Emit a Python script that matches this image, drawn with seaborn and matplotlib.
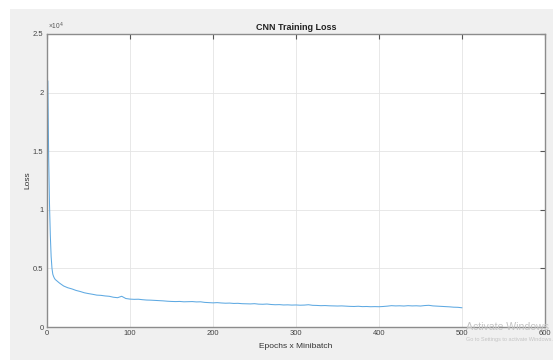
import numpy as np
import pandas as pd
import matplotlib
matplotlib.use("Agg")
import matplotlib.pyplot as plt
import seaborn as sns
from matplotlib.ticker import FuncFormatter
from matplotlib.patches import Rectangle

# ---- data (loss values, raw units) ----
epochs = [1, 2, 3, 4, 5, 6, 7, 8, 9, 10,
          15, 20, 25, 30, 35, 40, 45, 50, 55, 60,
          65, 70, 75, 80, 85, 90, 95, 100, 105, 110,
          115, 120, 125, 130, 135, 140, 145, 150, 155, 160,
          165, 170, 175, 180, 185, 190, 195, 200, 205, 210,
          215, 220, 225, 230, 235, 240, 245, 250, 255, 260,
          265, 270, 275, 280, 285, 290, 295, 300, 305, 310,
          315, 320, 325, 330, 335, 340, 345, 350, 355, 360,
          365, 370, 375, 380, 385, 390, 395, 400, 405, 410,
          415, 420, 425, 430, 435, 440, 445, 450, 455, 460,
          465, 470, 475, 480, 485, 490, 495, 500]
loss = [21000, 14500, 10500, 7800, 6000, 5000, 4500, 4300, 4150, 4050,
        3750, 3500, 3350, 3250, 3120, 3030, 2920, 2850, 2790, 2720,
        2700, 2650, 2620, 2540, 2500, 2620, 2430, 2380, 2360, 2370,
        2330, 2300, 2290, 2270, 2250, 2230, 2200, 2180, 2170, 2180,
        2150, 2160, 2170, 2140, 2150, 2100, 2080, 2060, 2080, 2050,
        2030, 2040, 2010, 2020, 1990, 1980, 1970, 1990, 1950, 1940,
        1960, 1920, 1900, 1910, 1880, 1890, 1870, 1880, 1860, 1870,
        1900, 1850, 1840, 1820, 1830, 1810, 1800, 1790, 1800, 1780,
        1760, 1750, 1770, 1740, 1750, 1730, 1740, 1730, 1750, 1780,
        1820, 1800, 1810, 1790, 1820, 1800, 1810, 1790, 1830, 1850,
        1800, 1780, 1760, 1740, 1720, 1690, 1680, 1640]

x_ticks = [0, 100, 200, 300, 400, 500, 600]
y_ticks = [0, 5000, 10000, 15000, 20000, 25000]

df = pd.DataFrame({"Epochs x Minibatch": epochs, "Loss": loss})

sns.set_style("white")
plt.rcParams["font.family"] = ["Liberation Sans", "DejaVu Sans"]

W, H = 553, 360
fig = plt.figure(figsize=(W / 100, H / 100), dpi=100, facecolor="white")
# gray window panel (behind the axes)
fig.patches.append(Rectangle((10 / W, 0), 1 - 10 / W, (H - 9) / H,
                             transform=fig.transFigure, facecolor="#f0f0f0",
                             edgecolor="none", zorder=-10))

ax = fig.add_axes([47 / W, (H - 327) / H, (545 - 47) / W, (327 - 34) / H])
ax.set_zorder(1)
ax.set_facecolor("white")

sns.lineplot(data=df, x="Epochs x Minibatch", y="Loss", ax=ax,
             color="#5ea9e2", linewidth=0.75)

ax.set_xlim(0, 600)
ax.set_ylim(0, 25000)
ax.set_xticks(x_ticks)
ax.set_yticks(y_ticks)
ax.yaxis.set_major_formatter(FuncFormatter(lambda v, p: "%g" % (v / 1e4)))
ax.xaxis.set_major_formatter(FuncFormatter(lambda v, p: "%g" % v))
ax.grid(True, color="#e4e4e4", linewidth=0.6)
ax.set_axisbelow(True)

for s in ax.spines.values():
    s.set_visible(True)
    s.set_color("#8c8c8c")
    s.set_linewidth(1.0)

ax.tick_params(axis="both", which="major", direction="in", length=3.5,
               width=0.8, color="#555555", labelsize=5.5, labelcolor="#444444",
               top=True, right=True, pad=2.5)

ax.set_xlabel("Epochs x Minibatch", fontsize=6, color="#333333", labelpad=4)
ax.set_ylabel("Loss", fontsize=6, color="#333333", labelpad=1)
ax.set_title("CNN Training Loss", fontsize=6.5, fontweight="bold",
             color="#222222", pad=3)

ax.text(0.002, 1.008, "\u00d710$^4$", transform=ax.transAxes, fontsize=4.8,
        color="#555555", ha="left", va="bottom")

# screen watermark visible in the reference
fig.text(466 / W, 1 - 327 / H, "Activate Windows", fontsize=7.6,
         color="#c4c4c4", ha="left", va="center", zorder=5)
fig.text(466 / W, 1 - 340 / H, "Go to Settings to activate Windows.",
         fontsize=4.0, color="#c4c4c4", ha="left", va="center", zorder=5)

fig.savefig("out.png", dpi=100, facecolor="white")
